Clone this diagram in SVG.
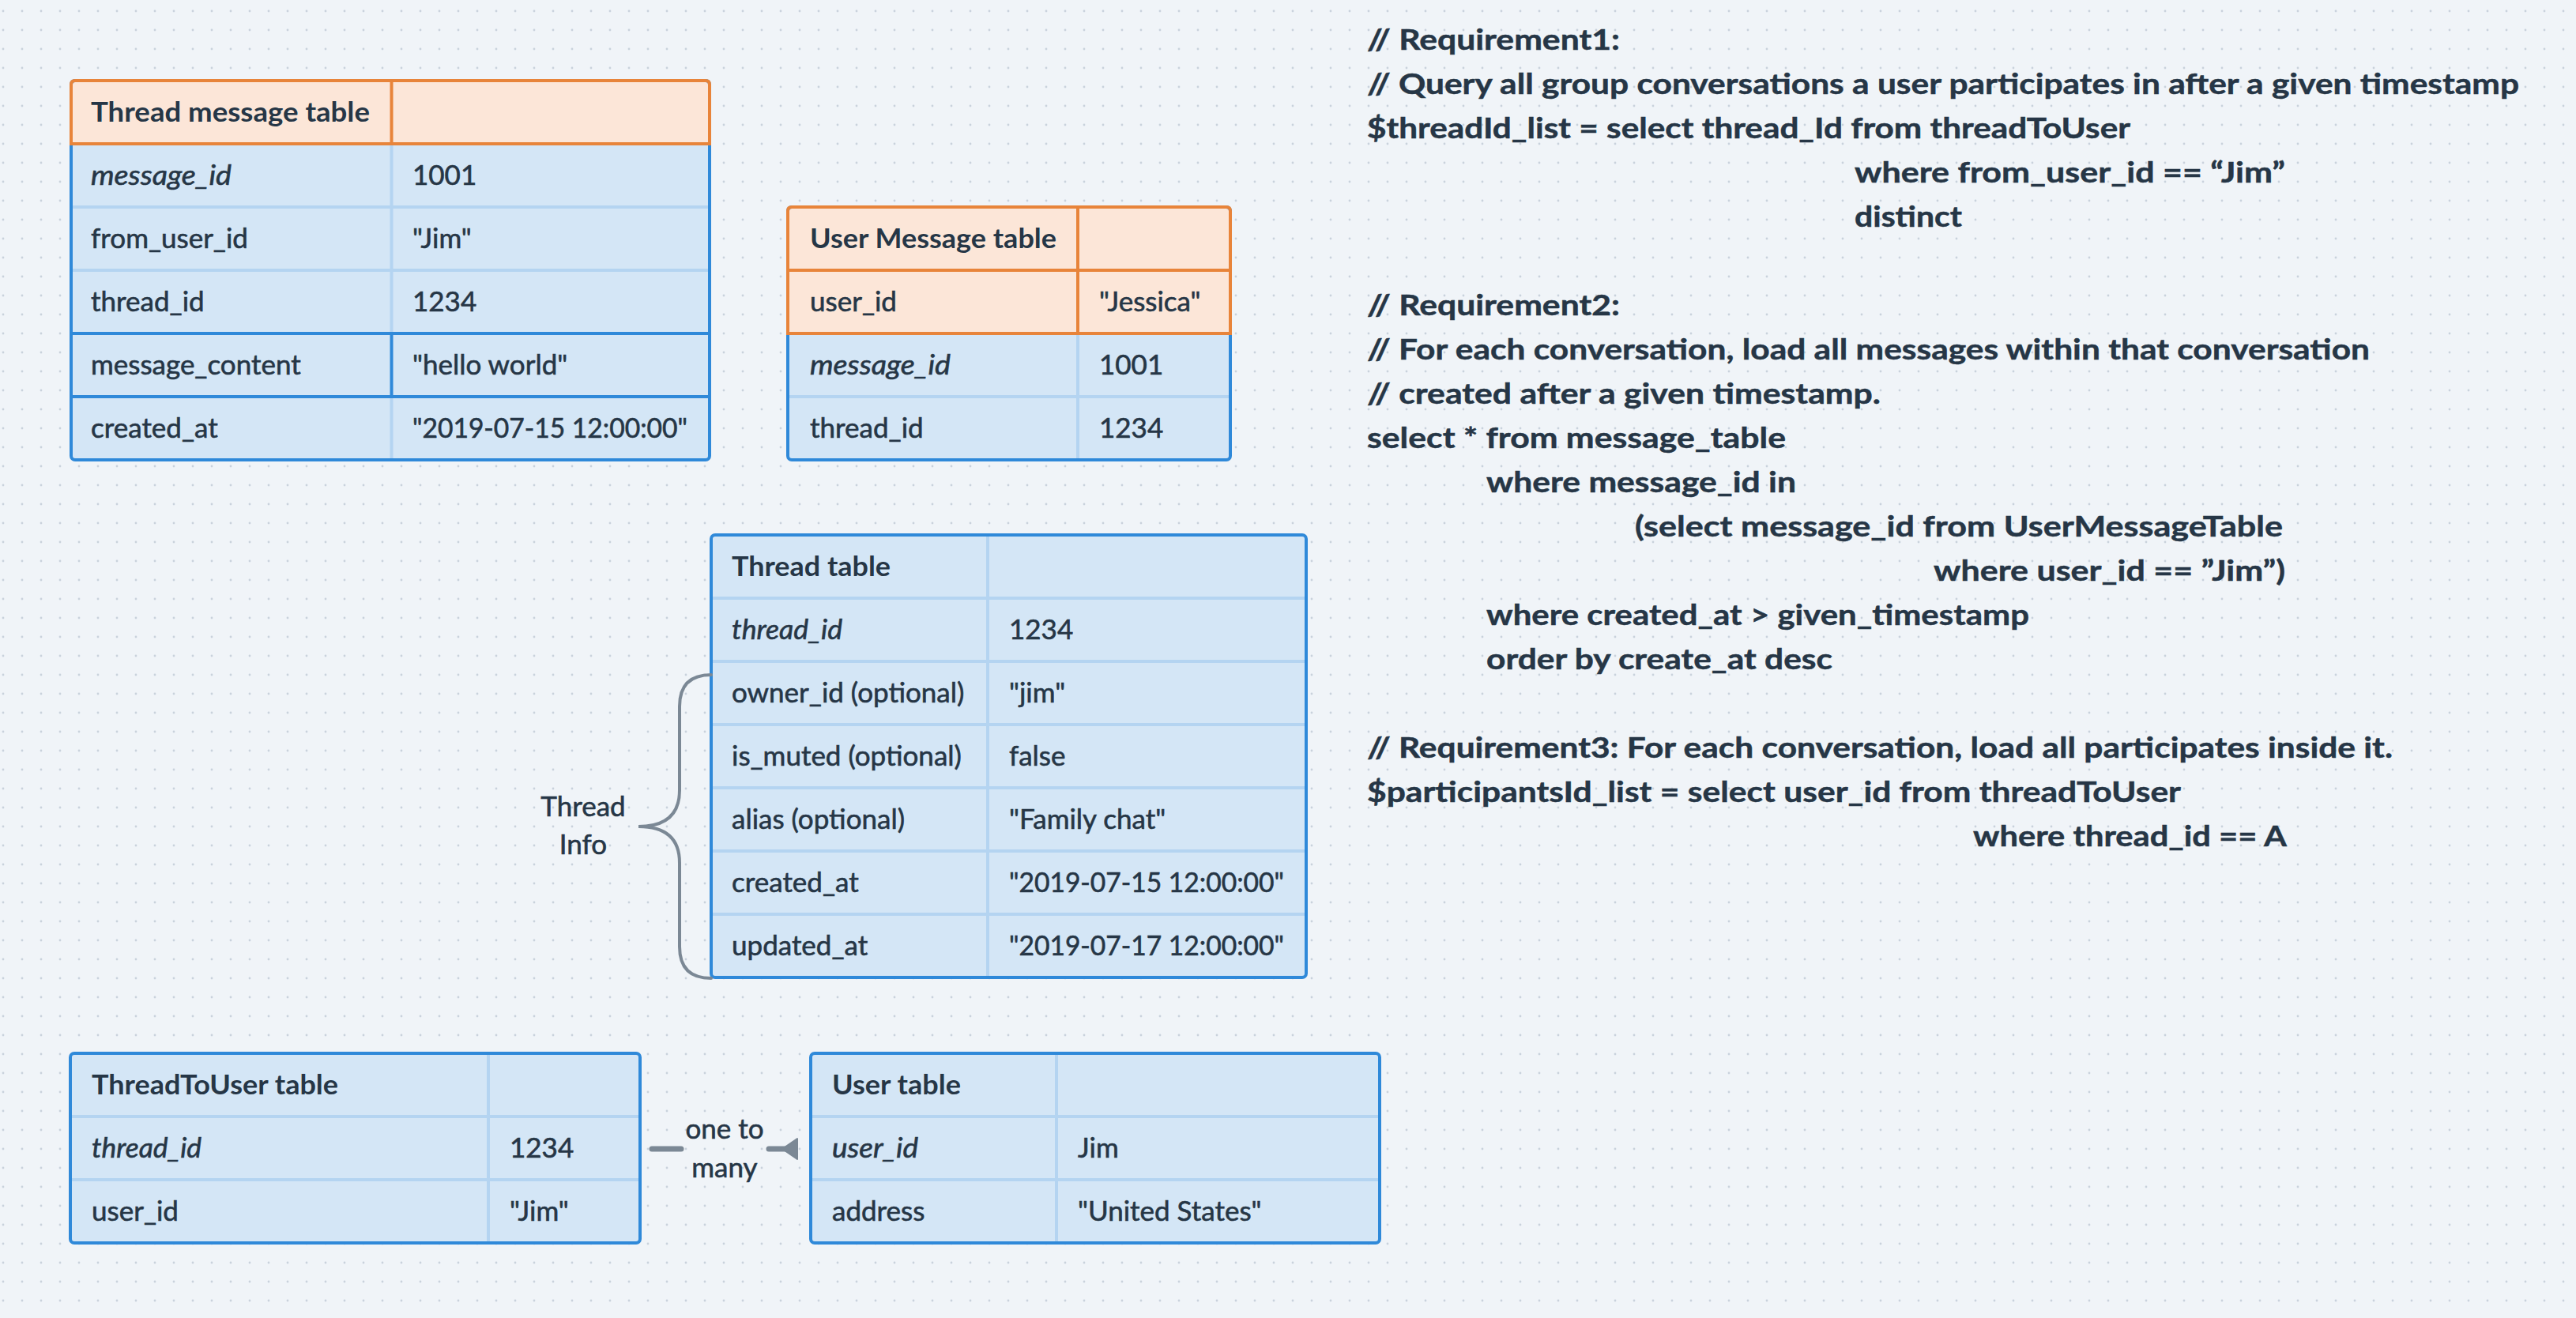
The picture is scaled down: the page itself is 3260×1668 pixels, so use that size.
<svg xmlns="http://www.w3.org/2000/svg" width="3260" height="1668" viewBox="0 0 3260 1668">
<defs>
<pattern id="dots" patternUnits="userSpaceOnUse" x="0" y="0" width="24" height="24">
<circle cx="4" cy="14" r="1.4" fill="#c9d2dc"/>
</pattern>
<style>
.t{font-family:Lato,"Liberation Sans",sans-serif;font-size:35px;fill:#263646;stroke:#263646;stroke-width:0.6px}
.b{font-weight:700;stroke-width:0}
.i{font-style:italic}
.c{font-family:Lato,"Liberation Sans",sans-serif;font-size:37px;font-weight:700;fill:#263646;stroke:#263646;stroke-width:0.5px}
.fb{fill:#d4e6f6}
.fo{fill:#fce6d8}
.ob{fill:none;stroke:#2f89d9;stroke-width:4}
.oo{fill:none;stroke:#e8843a;stroke-width:4}
.lb{fill:none;stroke:#b4d4f1;stroke-width:4}
.db{fill:none;stroke:#2f89d9;stroke-width:4}
.con{fill:none;stroke:#7b8895;stroke-width:4;stroke-linecap:round}
</style>
</defs>
<rect width="3260" height="1668" fill="#f0f4f8"/>
<rect width="3260" height="1668" fill="url(#dots)"/>

<g id="thread-message-table">
<rect class="fb" x="90" y="102" width="808" height="480" rx="5"/>
<path class="fo" d="M90 182V107Q90 102 95 102H893Q898 102 898 107V182Z"/>
<path class="lb" d="M90 262H898M90 342H898M495.5 182V422M495.5 502V582"/>
<path class="db" d="M90 422H898M90 502H898M495.5 422V502"/>
<rect class="ob" x="90" y="102" width="808" height="480" rx="5"/>
<path class="oo" d="M90 182V107Q90 102 95 102H893Q898 102 898 107V182ZM495.5 102V182"/>
<text class="t b" x="115" y="154" textLength="353" lengthAdjust="spacingAndGlyphs">Thread message table</text>
<text class="t i" x="115" y="234" textLength="178" lengthAdjust="spacingAndGlyphs">message_id</text>
<text class="t" x="522" y="234">1001</text>
<text class="t" x="115" y="314">from_user_id</text>
<text class="t" x="522" y="314">"Jim"</text>
<text class="t" x="115" y="394">thread_id</text>
<text class="t" x="522" y="394">1234</text>
<text class="t" x="115" y="474">message_content</text>
<text class="t" x="522" y="474">"hello world"</text>
<text class="t" x="115" y="554">created_at</text>
<text class="t" x="522" y="554" textLength="348" lengthAdjust="spacingAndGlyphs">"2019-07-15 12:00:00"</text>
</g>

<g id="user-message-table">
<rect class="fb" x="997" y="262" width="560" height="320" rx="5"/>
<path class="fo" d="M997 422V267Q997 262 1002 262H1552Q1557 262 1557 267V422Z"/>
<path class="lb" d="M997 502H1557M1364 422V582"/>
<rect class="ob" x="997" y="262" width="560" height="320" rx="5"/>
<path class="oo" d="M997 422V267Q997 262 1002 262H1552Q1557 262 1557 267V422ZM997 342H1557M1364 262V422"/>
<text class="t b" x="1025" y="314" textLength="312" lengthAdjust="spacingAndGlyphs">User Message table</text>
<text class="t" x="1025" y="394">user_id</text>
<text class="t" x="1391" y="394">"Jessica"</text>
<text class="t i" x="1025" y="474" textLength="178" lengthAdjust="spacingAndGlyphs">message_id</text>
<text class="t" x="1391" y="474">1001</text>
<text class="t" x="1025" y="554">thread_id</text>
<text class="t" x="1391" y="554">1234</text>
</g>

<g id="thread-table">
<rect class="fb" x="900" y="677" width="753" height="560" rx="5"/>
<path class="lb" d="M900 757H1653M900 837H1653M900 917H1653M900 997H1653M900 1077H1653M900 1157H1653M1250 677V1237"/>
<rect class="ob" x="900" y="677" width="753" height="560" rx="5"/>
<text class="t b" x="926" y="729" textLength="201" lengthAdjust="spacingAndGlyphs">Thread table</text>
<text class="t i" x="926" y="809" textLength="140" lengthAdjust="spacingAndGlyphs">thread_id</text>
<text class="t" x="1277" y="809">1234</text>
<text class="t" x="926" y="889">owner_id (optional)</text>
<text class="t" x="1277" y="889">"jim"</text>
<text class="t" x="926" y="969">is_muted (optional)</text>
<text class="t" x="1277" y="969">false</text>
<text class="t" x="926" y="1049">alias (optional)</text>
<text class="t" x="1277" y="1049">"Family chat"</text>
<text class="t" x="926" y="1129">created_at</text>
<text class="t" x="1277" y="1129" textLength="348" lengthAdjust="spacingAndGlyphs">"2019-07-15 12:00:00"</text>
<text class="t" x="926" y="1209">updated_at</text>
<text class="t" x="1277" y="1209" textLength="348" lengthAdjust="spacingAndGlyphs">"2019-07-17 12:00:00"</text>
</g>

<g id="thread-info-brace">
<path class="con" d="M900 854Q860 854 860 894V1000Q860 1046 808 1046Q860 1046 860 1092V1198Q860 1238 900 1238"/>
<text class="t" x="738" y="1033" text-anchor="middle">Thread</text>
<text class="t" x="738" y="1081" text-anchor="middle">Info</text>
</g>

<g id="thread-to-user-table">
<rect class="fb" x="89" y="1333" width="721" height="240" rx="5"/>
<path class="lb" d="M89 1413H810M89 1493H810M618 1333V1573"/>
<rect class="ob" x="89" y="1333" width="721" height="240" rx="5"/>
<text class="t b" x="116" y="1385" textLength="312" lengthAdjust="spacingAndGlyphs">ThreadToUser table</text>
<text class="t i" x="116" y="1465" textLength="139" lengthAdjust="spacingAndGlyphs">thread_id</text>
<text class="t" x="645" y="1465">1234</text>
<text class="t" x="116" y="1545">user_id</text>
<text class="t" x="645" y="1545">"Jim"</text>
</g>

<g id="user-table">
<rect class="fb" x="1026" y="1333" width="720" height="240" rx="5"/>
<path class="lb" d="M1026 1413H1746M1026 1493H1746M1337 1333V1573"/>
<rect class="ob" x="1026" y="1333" width="720" height="240" rx="5"/>
<text class="t b" x="1053" y="1385" textLength="163" lengthAdjust="spacingAndGlyphs">User table</text>
<text class="t i" x="1053" y="1465" textLength="109" lengthAdjust="spacingAndGlyphs">user_id</text>
<text class="t" x="1364" y="1465">Jim</text>
<text class="t" x="1053" y="1545">address</text>
<text class="t" x="1364" y="1545">"United States"</text>
</g>

<g id="connectors">
<path class="con" d="M825 1454H862M973 1454H996" style="stroke-width:7"/>
<path d="M990 1454L1009 1441V1467Z" fill="#7b8895" stroke="#7b8895" stroke-width="2" stroke-linejoin="round"/>
<text class="t" x="917" y="1441" text-anchor="middle">one to</text>
<text class="t" x="917" y="1490" text-anchor="middle">many</text>
</g>

<g id="requirements">
<text class="c" x="1730" y="63" textLength="320" lengthAdjust="spacingAndGlyphs">// Requirement1:</text>
<text class="c" x="1730" y="119" textLength="1458" lengthAdjust="spacingAndGlyphs">// Query all group conversations a user participates in after a given timestamp</text>
<text class="c" x="1730" y="175" textLength="966" lengthAdjust="spacingAndGlyphs">$threadId_list = select thread_Id from threadToUser</text>
<text class="c" x="2347" y="231" textLength="545" lengthAdjust="spacingAndGlyphs">where from_user_id == “Jim”</text>
<text class="c" x="2347" y="287" textLength="136" lengthAdjust="spacingAndGlyphs">distinct</text>
<text class="c" x="1730" y="399" textLength="320" lengthAdjust="spacingAndGlyphs">// Requirement2:</text>
<text class="c" x="1730" y="455" textLength="1269" lengthAdjust="spacingAndGlyphs">// For each conversation, load all messages within that conversation</text>
<text class="c" x="1730" y="511" textLength="650" lengthAdjust="spacingAndGlyphs">// created after a given timestamp.</text>
<text class="c" x="1730" y="567" textLength="530" lengthAdjust="spacingAndGlyphs">select * from message_table</text>
<text class="c" x="1881" y="623" textLength="392" lengthAdjust="spacingAndGlyphs">where message_id in</text>
<text class="c" x="2069" y="679" textLength="820" lengthAdjust="spacingAndGlyphs">(select message_id from UserMessageTable</text>
<text class="c" x="2447" y="735" textLength="445" lengthAdjust="spacingAndGlyphs">where user_id == ”Jim”)</text>
<text class="c" x="1881" y="791" textLength="687" lengthAdjust="spacingAndGlyphs">where created_at &gt; given_timestamp</text>
<text class="c" x="1881" y="847" textLength="438" lengthAdjust="spacingAndGlyphs">order by create_at desc</text>
<text class="c" x="1730" y="959" textLength="1298" lengthAdjust="spacingAndGlyphs">// Requirement3: For each conversation, load all participates inside it.</text>
<text class="c" x="1730" y="1015" textLength="1030" lengthAdjust="spacingAndGlyphs">$participantsId_list = select user_id from threadToUser</text>
<text class="c" x="2497" y="1071" textLength="397" lengthAdjust="spacingAndGlyphs">where thread_id == A</text>
</g>
</svg>
